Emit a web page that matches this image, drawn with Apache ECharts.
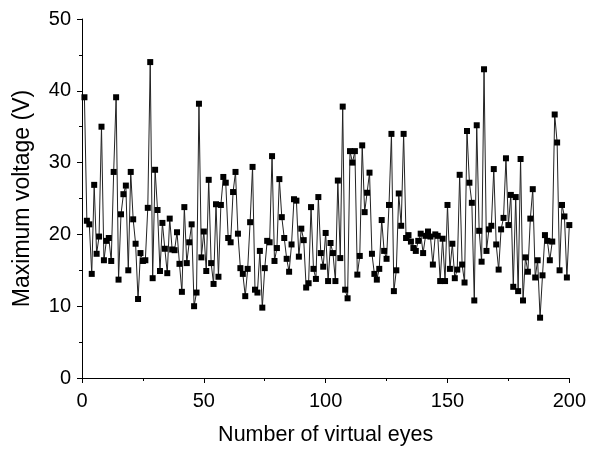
<!DOCTYPE html>
<html>
<head>
<meta charset="utf-8">
<script src="https://cdn.jsdelivr.net/npm/echarts@6/dist/echarts.min.js"></script>
<style>html,body{margin:0;padding:0;background:#fff;}#c{width:589px;height:451px;}</style>
</head>
<body>
<div id="c"></div>
<script>
const eyes = [];
for (let i = 1; i <= 200; i++) eyes.push(i);
const voltage = [
39.1,21.9,21.4,14.5,26.9,17.3,19.7,35.0,16.4,19.1,
19.5,16.3,28.7,39.1,13.7,22.8,25.6,26.8,15.0,28.7,
22.1,18.7,11.0,17.4,16.3,16.4,23.7,44.0,13.9,29.0,
23.4,14.9,21.6,18.0,14.6,22.2,17.9,17.8,20.3,15.9,
12.0,23.8,16.0,18.9,21.4,10.0,11.9,38.2,16.8,20.4,
14.9,27.6,16.0,13.1,24.2,14.1,24.1,28.0,27.2,19.5,
18.9,25.9,28.7,20.1,15.3,14.5,11.4,15.2,21.7,29.4,
12.3,11.9,17.7,9.8,15.3,19.1,18.9,30.9,16.3,18.1,
27.7,22.4,19.5,16.6,14.8,18.6,24.9,24.7,16.9,20.8,
19.2,12.6,13.2,23.8,15.2,13.8,25.2,17.4,15.5,20.2,
13.5,18.8,17.4,13.5,27.5,16.7,37.8,12.3,11.1,31.6,
30.0,31.6,14.4,17.0,32.4,23.1,25.8,28.6,17.3,14.5,
13.7,15.2,22.0,17.7,16.6,24.1,34.0,12.1,15.0,25.7,
21.2,34.0,19.5,19.9,19.0,18.1,17.7,19.1,20.1,17.4,
19.8,20.4,19.7,15.8,20.0,19.8,13.5,19.4,13.5,24.1,
15.2,18.7,13.9,15.1,28.3,15.8,13.3,34.4,27.2,24.4,
10.8,35.2,20.5,16.2,43.0,17.7,20.7,21.2,29.1,18.6,
15.1,20.7,22.3,30.6,21.3,25.5,12.7,25.2,12.1,30.5,
10.8,16.8,14.8,22.2,26.3,14.0,16.4,8.4,14.3,19.9,
19.1,16.4,19.0,36.7,32.8,15.0,24.1,22.5,14.0,21.3
];
const xTicks = [0, 50, 100, 150, 200];
const yTicks = [0, 10, 20, 30, 40, 50];

const font = "'Liberation Sans', Arial, sans-serif";
const chart = echarts.init(document.getElementById('c'), null, {renderer: 'canvas'});
chart.setOption({
  animation: false,
  backgroundColor: '#fff',
  grid: {left: 82, right: 19, top: 19, bottom: 67, containLabel: false},
  xAxis: {
    type: 'value',
    min: xTicks[0], max: xTicks[xTicks.length - 1], interval: 50,
    name: 'Number of virtual eyes',
    nameLocation: 'middle', nameGap: 46,
    nameTextStyle: {fontFamily: font, fontSize: 21.5, color: '#000'},
    axisLine: {show: true, onZero: false, lineStyle: {color: '#000', width: 1}},
    axisTick: {show: true, inside: false, length: 5, lineStyle: {color: '#000'}},
    minorTick: {show: true, splitNumber: 2, length: 3, lineStyle: {color: '#000'}},
    axisLabel: {fontFamily: font, fontSize: 20, color: '#000', margin: 13},
    splitLine: {show: false}
  },
  yAxis: {
    type: 'value',
    min: yTicks[0], max: yTicks[yTicks.length - 1], interval: 10,
    name: 'Maximum voltage (V)',
    nameLocation: 'middle', nameGap: 48,
    nameTextStyle: {fontFamily: font, fontSize: 23, color: '#000'},
    axisLine: {show: true, lineStyle: {color: '#000', width: 1}},
    axisTick: {show: true, inside: false, length: 5, lineStyle: {color: '#000'}},
    minorTick: {show: true, splitNumber: 2, length: 3, lineStyle: {color: '#000'}},
    axisLabel: {fontFamily: font, fontSize: 20, color: '#000', margin: 11},
    splitLine: {show: false}
  },
  series: [{
    type: 'line',
    data: eyes.map((x, i) => [x, voltage[i]]),
    symbol: 'rect',
    symbolSize: 6,
    showAllSymbol: true,
    lineStyle: {color: '#222', width: 1},
    itemStyle: {color: '#000'}
  }]
});
</script>
</body>
</html>
